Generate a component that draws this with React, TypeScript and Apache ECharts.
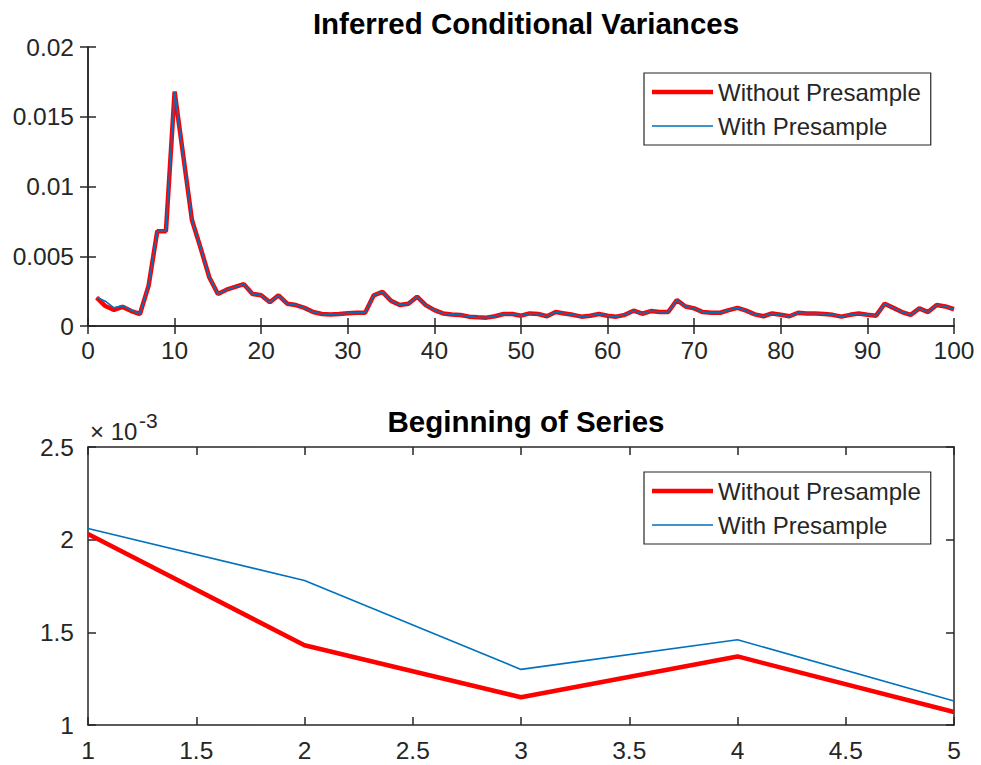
import React, { useEffect, useRef } from "react";
import * as echarts from "echarts";

// First five observations differ between the two inferences
const headWithout = [0.00203, 0.00143, 0.00115, 0.00137, 0.00107];
const headWith = [0.00206, 0.00178, 0.0013, 0.00146, 0.00113];

// Observations 6..100 (both inferences coincide)
const tailValues = [
  0.00086, 0.0029, 0.0068, 0.0068, 0.0168, 0.0122, 0.0076, 0.0056, 0.0035, 0.0023,
  0.0026, 0.0028, 0.003, 0.0023, 0.0022, 0.0017, 0.0022, 0.0016, 0.0015, 0.0013,
  0.001, 0.00086, 0.00083, 0.00086, 0.00092, 0.00095, 0.00095, 0.0022, 0.00245, 0.0018,
  0.0015, 0.0016, 0.0021, 0.0015, 0.00114, 0.0009, 0.00083, 0.00079, 0.00067, 0.00062,
  0.0006, 0.0007, 0.00086, 0.00086, 0.00074, 0.0009, 0.00086, 0.0007, 0.001, 0.0009,
  0.0008, 0.00067, 0.00074, 0.00086, 0.00074, 0.00067, 0.0008, 0.0011, 0.00088, 0.00107,
  0.001, 0.001, 0.00186, 0.0014, 0.00126, 0.001, 0.00095, 0.00095, 0.00114, 0.0013,
  0.0011, 0.00083, 0.0007, 0.0009, 0.0008, 0.0007, 0.00095, 0.0009, 0.0009, 0.00086,
  0.0008, 0.00067, 0.0008, 0.0009, 0.0008, 0.00074, 0.0016, 0.0013, 0.001, 0.0008,
  0.00126, 0.001, 0.0015, 0.0014, 0.0012,
];

const withoutPresample = [...headWithout, ...tailValues];
const withPresample = [...headWith, ...tailValues];
const BEGIN_COUNT = 5;

const TITLE_TOP = "Inferred Conditional Variances";
const TITLE_BOTTOM = "Beginning of Series";
const NAME_WITHOUT = "Without Presample";
const NAME_WITH = "With Presample";

const FONT = "Liberation Sans, Arial, Helvetica, sans-serif";
const AXIS_COLOR = "#262626";
const RED = "#ff0000";
const BLUE = "#0072bd";

// legend line icons: a band across the full icon box (tiny corner specks fix the box)
const ICON_RED = "path://M0,0H0.01V0.01H0Z M0,23.99H0.01V24H0Z M0,9.75H61V14.25H0Z";
const ICON_BLUE = "path://M0,0H0.01V0.01H0Z M0,23.99H0.01V24H0Z M0,11.25H61V12.75H0Z";

export default function App() {
  const ref = useRef<HTMLDivElement>(null);

  useEffect(() => {
    if (!ref.current) return;
    const chart = echarts.init(ref.current, undefined, { renderer: "svg" });

    const toPairs = (arr: number[]) => arr.map((v, i) => [i + 1, v]);
    const beginPairs = (arr: number[]) => arr.slice(0, BEGIN_COUNT).map((v, i) => [i + 1, v]);

    const tickFont = { fontFamily: FONT, fontSize: 24.5, color: AXIS_COLOR };
    const lineAxis = { lineStyle: { color: AXIS_COLOR, width: 1.5 } };
    const tickIn = { inside: true, length: 8, lineStyle: { color: AXIS_COLOR, width: 1.5 } };

    const fmtE3 = (v: number) => String(Number((v * 1000).toFixed(3)));

    const grids = [
      { left: 88, top: 47, width: 866, height: 279, containLabel: false },
      { left: 88, top: 447, width: 866, height: 278, containLabel: false },
    ];

    const xAxes: any[] = [
      { type: "value", gridIndex: 0, min: 0, max: 100, interval: 10, position: "bottom",
        axisLine: { show: true, ...lineAxis }, axisTick: tickIn, splitLine: { show: false },
        axisLabel: { ...tickFont, margin: 12 } },
      { type: "value", gridIndex: 0, min: 0, max: 100, interval: 10, position: "top",
        axisLine: { show: true, ...lineAxis }, axisTick: tickIn, splitLine: { show: false },
        axisLabel: { show: false } },
      { type: "value", gridIndex: 1, min: 1, max: 5, interval: 0.5, position: "bottom",
        axisLine: { show: true, ...lineAxis }, axisTick: tickIn, splitLine: { show: false },
        axisLabel: { ...tickFont, margin: 13 } },
      { type: "value", gridIndex: 1, min: 1, max: 5, interval: 0.5, position: "top",
        axisLine: { show: true, ...lineAxis }, axisTick: tickIn, splitLine: { show: false },
        axisLabel: { show: false } },
    ];

    const yAxes: any[] = [
      { type: "value", gridIndex: 0, min: 0, max: 0.02, interval: 0.005, position: "left",
        axisLine: { show: true, ...lineAxis }, axisTick: tickIn, splitLine: { show: false },
        axisLabel: { ...tickFont, margin: 14 } },
      { type: "value", gridIndex: 0, min: 0, max: 0.02, interval: 0.005, position: "right",
        axisLine: { show: true, ...lineAxis }, axisTick: tickIn, splitLine: { show: false },
        axisLabel: { show: false } },
      { type: "value", gridIndex: 1, min: 0.001, max: 0.0025, interval: 0.0005, position: "left",
        axisLine: { show: true, ...lineAxis }, axisTick: tickIn, splitLine: { show: false },
        axisLabel: { ...tickFont, margin: 14, formatter: fmtE3 } },
      { type: "value", gridIndex: 1, min: 0.001, max: 0.0025, interval: 0.0005, position: "right",
        axisLine: { show: true, ...lineAxis }, axisTick: tickIn, splitLine: { show: false },
        axisLabel: { show: false } },
    ];

    const redStyle = { color: RED, width: 4.5 };
    const blueStyle = { color: BLUE, width: 1.6 };

    const legendCommon = {
      orient: "vertical",
      left: 644,
      itemWidth: 61,
      itemHeight: 24,
      itemGap: 10,
      padding: [7, 10, 7, 8],
      borderColor: AXIS_COLOR,
      borderWidth: 1.2,
      backgroundColor: "#ffffff",
      symbolKeepAspect: false,
      itemStyle: { borderWidth: 0 },
      textStyle: { fontFamily: FONT, fontSize: 24, color: AXIS_COLOR, lineHeight: 24 },
      data: [
        { name: NAME_WITHOUT, icon: ICON_RED, itemStyle: { color: RED, borderWidth: 0 } },
        { name: NAME_WITH, icon: ICON_BLUE, itemStyle: { color: BLUE, borderWidth: 0 } },
      ],
      selectedMode: false,
    };

    chart.setOption({
      animation: false,
      backgroundColor: "#ffffff",
      title: [
        { text: TITLE_TOP, left: 521, top: 3, textAlign: "center",
          textStyle: { fontFamily: FONT, fontSize: 29.5, fontWeight: "bold", color: "#000" } },
        { text: TITLE_BOTTOM, left: 521, top: 401, textAlign: "center",
          textStyle: { fontFamily: FONT, fontSize: 29.5, fontWeight: "bold", color: "#000" } },
      ],
      legend: [
        { ...legendCommon, top: 73 },
        { ...legendCommon, top: 472 },
      ],
      grid: grids,
      xAxis: xAxes,
      yAxis: yAxes,
      graphic: [
        { type: "text", x: 90, y: 419,
          style: { text: "× 10", fontFamily: FONT, fontSize: 24, fill: AXIS_COLOR } },
        { type: "text", x: 139, y: 410,
          style: { text: "-3", fontFamily: FONT, fontSize: 21, fill: AXIS_COLOR } },
      ],
      series: [
        { name: NAME_WITHOUT, type: "line", xAxisIndex: 0, yAxisIndex: 0, symbol: "none",
          data: toPairs(withoutPresample), lineStyle: redStyle, itemStyle: { color: RED } },
        { name: NAME_WITH, type: "line", xAxisIndex: 0, yAxisIndex: 0, symbol: "none",
          data: toPairs(withPresample), lineStyle: blueStyle, itemStyle: { color: BLUE } },
        { name: NAME_WITHOUT, type: "line", xAxisIndex: 2, yAxisIndex: 2, symbol: "none",
          data: beginPairs(withoutPresample), lineStyle: redStyle, itemStyle: { color: RED } },
        { name: NAME_WITH, type: "line", xAxisIndex: 2, yAxisIndex: 2, symbol: "none",
          data: beginPairs(withPresample), lineStyle: blueStyle, itemStyle: { color: BLUE } },
      ],
    });

    return () => chart.dispose();
  }, []);

  return (
    <div
      ref={ref}
      style={{ position: "absolute", left: 0, top: 0, width: 981, height: 765, background: "#fff" }}
    />
  );
}
